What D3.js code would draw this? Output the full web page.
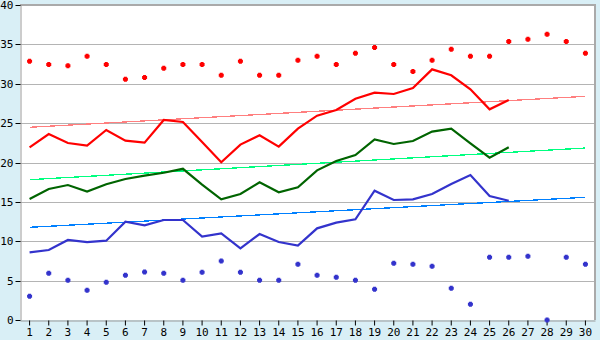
<!DOCTYPE html>
<html>
<head>
<meta charset="utf-8">
<script src="https://cdn.jsdelivr.net/npm/d3@7"></script>
<style>
    body { margin: 0; background: #d9eff6; }
    svg { display: block; }
    .tick text { font-family: "DejaVu Sans Mono", monospace; font-size: 11px; fill: #000; }
</style>
</head>
<body>
<div id="grafico"></div>
<script>
// categorias del eje x
const days = d3.range(1, 31);
const yTicks = [0, 5, 10, 15, 20, 25, 30, 35, 40];

// puntos rojos (arriba)
const redPoints = [32.85, 32.46, 32.3, 33.5, 32.46, 30.56, 30.8, 31.96, 32.46, 32.46,
    31.07, 32.85, 31.07, 31.07, 32.97, 33.48, 32.46, 33.86, 34.6, 32.46,
    31.57, 32.97, 34.37, 33.48, 33.48, 35.38, 35.64, 36.27, 35.38, 33.86];
// linea roja
const redLine = [21.93, 23.62, 22.48, 22.14, 24.13, 22.77, 22.52, 25.4, 25.14, 22.6,
    20.03, 22.27, 23.45, 22.01, 24.3, 25.95, 26.67, 28.1, 28.87, 28.7,
    29.46, 31.83, 31.07, 29.3, 26.75, 27.94];
// linea verde
const greenLine = [15.37, 16.63, 17.14, 16.3, 17.23, 17.9, 18.33, 18.7, 19.2, 17.2,
    15.32, 16.0, 17.48, 16.21, 16.85, 19.0, 20.19, 20.95, 22.94, 22.35,
    22.73, 23.92, 24.3, 22.43, 20.61, 21.93];
// linea azul
const blueLine = [8.59, 8.89, 10.16, 9.9, 10.07, 12.49, 12.02, 12.7, 12.7, 10.58,
    11.0, 9.1, 10.92, 9.9, 9.44, 11.64, 12.36, 12.78, 16.42, 15.24,
    15.32, 16.0, 17.27, 18.41, 15.75, 15.15];
// puntos azules (abajo)
const bluePoints = [3.01, 5.93, 5.04, 3.77, 4.78, 5.67, 6.1, 5.93, 5.04, 6.05,
    7.49, 6.05, 5.04, 5.04, 7.07, 5.67, 5.42, 5.04, 3.9, 7.2,
    7.07, 6.82, 4.02, 1.99, 7.96, 7.96, 8.08, 0, 7.96, 7.07];
// tendencias: valor en el dia 1 y en el dia 30
const redTrend = [24.47, 28.4];
const greenTrend = [17.82, 21.84];
const blueTrend = [11.77, 15.58];

const width = 600;
const height = 340;
const margin = { top: 5, right: 5, bottom: 20, left: 20 };

const svg = d3.select('#grafico')
    .append('svg')
    .attr('width', width)
    .attr('height', height);

// Escala en el eje x
const xScale = d3.scaleBand()
    .domain(days)
    .range([margin.left, width - margin.right]);
const cx = d => xScale(d) + xScale.bandwidth() / 2;

// Escala en el eje y
const yScale = d3.scaleLinear()
    .domain([0, 40])
    .range([height - margin.bottom, margin.top]);

svg.append('rect')
    .attr('x', margin.left)
    .attr('y', margin.top)
    .attr('width', width - margin.left - margin.right)
    .attr('height', height - margin.top - margin.bottom)
    .attr('fill', '#fff');

// lineas horizontales
svg.append('g')
    .selectAll('line')
    .data(yTicks.slice(1))
    .join('line')
    .attr('x1', margin.left)
    .attr('x2', width - margin.right)
    .attr('y1', d => Math.round(yScale(d)) + 0.5)
    .attr('y2', d => Math.round(yScale(d)) + 0.5)
    .attr('stroke', '#b4b4b4');

// borde derecho y superior
svg.append('line')
    .attr('x1', width - margin.right)
    .attr('x2', width - margin.right)
    .attr('y1', margin.top)
    .attr('y2', height - margin.bottom)
    .attr('stroke', '#aaa')
    .attr('stroke-width', 2);
svg.append('line')
    .attr('x1', margin.left)
    .attr('x2', width - margin.right + 1)
    .attr('y1', margin.top)
    .attr('y2', margin.top)
    .attr('stroke', '#aaa')
    .attr('stroke-width', 2);

const xAxis = d3.axisBottom(xScale).tickSize(5).tickSizeOuter(0).tickPadding(3);
const yAxis = d3.axisLeft(yScale).tickValues(yTicks).tickSize(5).tickSizeOuter(0).tickPadding(2);

const gx = svg.append('g')
    .attr('transform', `translate(0, ${height - margin.bottom + 0.5})`)
    .call(xAxis);
const gy = svg.append('g')
    .attr('transform', `translate(${margin.left + 0.5}, 0)`)
    .call(yAxis);
[gx, gy].forEach(g => {
    g.select('.domain').attr('stroke', '#999');
    g.selectAll('.tick line').attr('stroke', '#000');
});
gy.selectAll('.tick').attr('transform', d => `translate(0, ${Math.round(yScale(d)) + 0.5})`);

// tendencias
const trendLine = d3.line()
    .x((d, i) => cx(days[i === 0 ? 0 : days.length - 1]))
    .y(d => yScale(d));
[[redTrend, '#ff7f7f'], [greenTrend, '#00ff80'], [blueTrend, '#0080ff']].forEach(([t, c]) => {
    svg.append('path')
        .attr('d', trendLine(t))
        .attr('fill', 'none')
        .attr('stroke', c)
        .attr('stroke-width', 1.3)
        .attr('shape-rendering', 'crispEdges');
});

const line = d3.line()
    .x((d, i) => cx(days[i]))
    .y(d => yScale(d));
[[redLine, '#ff0000'], [greenLine, '#006400'], [blueLine, '#3333cc']].forEach(([s, c]) => {
    svg.append('path')
        .attr('d', line(s))
        .attr('fill', 'none')
        .attr('stroke', c)
        .attr('stroke-width', 2.2);
});

// marcador: cruz gruesa de 5px
const plusBlob = {
    draw(ctx) {
        const a = 1.5, b = 2.5;
        ctx.moveTo(-a, -b); ctx.lineTo(a, -b); ctx.lineTo(a, -a); ctx.lineTo(b, -a);
        ctx.lineTo(b, a); ctx.lineTo(a, a); ctx.lineTo(a, b); ctx.lineTo(-a, b);
        ctx.lineTo(-a, a); ctx.lineTo(-b, a); ctx.lineTo(-b, -a); ctx.lineTo(-a, -a);
        ctx.closePath();
    }
};
const marker = d3.symbol().type(plusBlob);
[[redPoints, '#ff0000'], [bluePoints, '#3333cc']].forEach(([s, c]) => {
    svg.append('g')
        .selectAll('path')
        .data(s)
        .join('path')
        .attr('d', marker)
        .attr('transform', (d, i) => `translate(${cx(days[i])}, ${yScale(d)})`)
        .attr('fill', c);
});
</script>
</body>
</html>
